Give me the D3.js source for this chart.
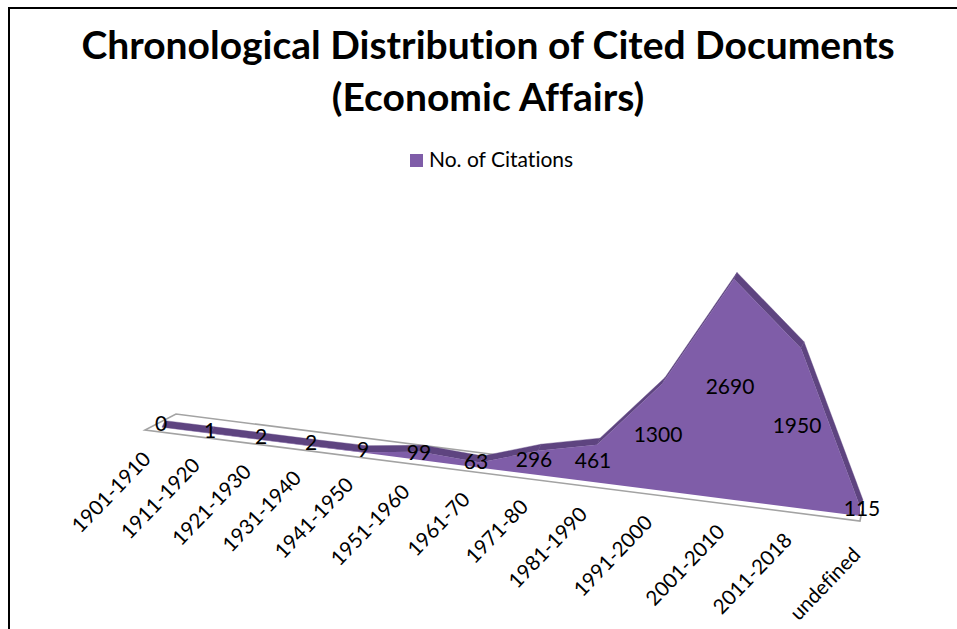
<!DOCTYPE html>
<html><head><meta charset="utf-8">
<script src="https://cdn.jsdelivr.net/npm/d3@7"></script>
<style>html,body{margin:0;padding:0;background:#fff}svg{display:block}text{font-family:Lato,"Open Sans",sans-serif;fill:#000;font-variant-ligatures:none}</style>
</head><body><svg id="c" width="957" height="629"></svg>
<script>
const categories=["1901-1910","1911-1920","1921-1930","1931-1940","1941-1950","1951-1960","1961-70","1971-80","1981-1990","1991-2000","2001-2010","2011-2018","undefined"];
const citations=[0,1,2,2,9,99,63,296,461,1300,2690,1950,115];
const seriesName="No. of Citations";
const titleLines=["Chronological Distribution of Cited Documents","(Economic Affairs)"];
const idx=categories.map((_,i)=>i);
const last=idx.length-1;

const svg=d3.select("#c");
// perspective axis: horizontal position of each category along the tilted floor
const x=d3.scaleLinear().domain(idx).range([162,211,262,312,364,420,480,538,597,662,734,801,860]);
// floor edge runs downhill left to right
const floorY=d3.scaleLinear().domain([145,860]).range([430,521]);
const hScale=d3.scaleLinear().domain([0,2690]).range([0,221]);
const lift=5, depth=[3,-6.5];
const front=i=>[x(i),floorY(x(i))-lift-hScale(citations[i])];
const base=i=>[x(i),floorY(x(i))-lift];
const back=i=>{const p=front(i);return [p[0]+depth[0],p[1]+depth[1]];};
const line=d3.line();

// frame
svg.append("path").attr("d",line([[9,629],[9,8],[957,8]])).attr("fill","none").attr("stroke","#000").attr("stroke-width",2);

// floor
const br=[176,414];
const slope=(floorY(860)-floorY(145))/715;
svg.append("path").attr("d",line([[700,br[1]+(700-br[0])*slope],br,[145,430],[860,521],[862,511]]))
 .attr("fill","none").attr("stroke","#a3a3a3").attr("stroke-width",1.6);

// top surface
idx.slice(0,-1).forEach(i=>{
 svg.append("path").attr("d",line([front(i),back(i),back(i+1),front(i+1)])+"Z").attr("fill","#5e4480").attr("stroke","#5e4480").attr("stroke-width",.4);
});
// front face
svg.append("path").attr("d",line([...idx.map(front),...idx.slice().reverse().map(base)])+"Z").attr("fill","#7f5da8");

// data labels, centred in the height of the area
svg.append("g").selectAll("text").data(citations).join("text")
 .attr("x",(d,i)=>i===last?x(i)+2:x(i)-(i<6?1:4))
 .attr("y",(d,i)=>floorY(x(i))-lift-hScale(d)/2-1)
 .attr("text-anchor","middle").attr("dominant-baseline","middle")
 .attr("font-size",21).text(d=>d);

// category labels
svg.append("g").selectAll("text").data(categories).join("text")
 .attr("transform",(d,i)=>{
   const dx=i===last?10:3-i*0.2, dy=i===last?7:0;
   return `translate(${x(i)-13+(i*0.4)+dx},${floorY(x(i))+28+dy}) rotate(-46)`;
 })
 .attr("text-anchor","end").attr("font-size",20.5).text(d=>d);

// title
svg.append("g").selectAll("text").data(titleLines).join("text")
 .attr("x",488).attr("y",(d,i)=>59+i*52).attr("text-anchor","middle").attr("font-size",39).attr("font-weight",700).text(d=>d);

// legend
svg.append("rect").attr("x",410).attr("y",154).attr("width",13).attr("height",13).attr("fill","#7f5da8");
svg.append("text").attr("x",429).attr("y",167).attr("font-size",21).text(seriesName);
</script></body></html>
